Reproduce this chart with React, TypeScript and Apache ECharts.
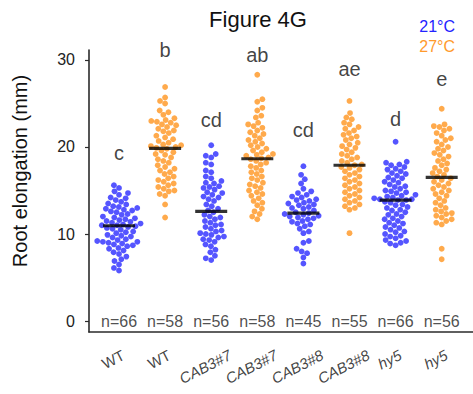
import React, { useEffect, useRef } from "react";
import * as echarts from "echarts";

// ---------- data ----------
const categories = ["WT", "WT", "CAB3#7", "CAB3#7", "CAB3#8", "CAB3#8", "hy5", "hy5"];
const temperatures = ["21°C", "27°C"];
const letters = ["c", "b", "cd", "ab", "cd", "ae", "d", "e"];
const letterLevels = [19.3, 31.1, 23.1, 30.6, 22.0, 29.0, 23.2, 27.8];
const yTicks = [0, 10, 20, 30];

const wt21 = [
  15.6, 15.3, 14.9, 14.7, 14.5, 14.2, 14.1, 13.9, 13.7, 13.5, 13.4, 13.2, 13.1, 12.9, 12.8, 12.6, 12.5,
  12.3, 12.2, 12.0, 11.9, 11.8, 11.6, 11.5, 11.3, 11.2, 11.1, 11.0, 11.0, 11.4, 11.7, 12.7, 13.0,
  10.9, 10.8, 10.7, 10.6, 10.5, 10.3, 10.2, 10.1, 9.9, 9.8, 9.7, 9.6, 9.4, 9.3, 9.2, 9.1, 9.1, 9.0,
  8.9, 8.8, 8.7, 8.6, 8.4, 8.3, 8.1, 7.9, 7.7, 7.4, 7.1, 6.9, 6.5, 6.1, 5.8,
];
const wt27 = [
  26.9, 25.7, 25.3, 25.0, 24.2, 24.0, 23.7, 23.3, 23.1, 23.0, 22.9, 22.8, 22.6, 22.5, 22.3, 22.1, 21.9,
  21.8, 21.6, 21.3, 21.1, 20.9, 20.7, 20.5, 20.3, 20.2, 20.1, 20.0, 19.9,
  19.8, 19.6, 19.4, 19.2, 19.1, 18.8, 18.6, 18.4, 18.2, 17.9, 17.7, 17.5, 17.3, 17.1, 16.9, 16.6, 16.4,
  16.2, 16.0, 15.8, 15.6, 15.4, 15.2, 15.0, 14.9, 14.6, 14.4, 13.4, 11.9,
];
const cab7_21 = [
  20.2, 19.2, 19.0, 18.8, 18.2, 18.0, 17.3, 17.1, 16.6, 16.4, 16.1, 15.9, 15.8, 15.5, 15.4, 15.3, 15.1,
  14.8, 14.7, 14.5, 14.3, 14.2, 14.0, 13.8, 13.4, 13.2, 12.9, 12.7,
  12.5, 12.2, 12.0, 11.9, 11.7, 11.5, 11.3, 11.1, 11.0, 10.8, 10.6, 10.4, 10.3, 10.1, 10.0, 9.9, 9.7,
  9.6, 9.4, 9.3, 9.1, 8.8, 8.6, 8.2, 7.9, 7.5, 7.2, 7.0,
];
const cab7_27 = [
  28.3, 25.5, 25.2, 24.5, 24.2, 23.6, 23.4, 22.8, 22.6, 22.4, 22.2, 21.9, 21.7, 21.5, 21.3, 21.0, 20.8,
  20.6, 20.4, 20.2, 20.0, 19.8, 19.6, 19.4, 19.2, 19.1, 19.0, 18.8, 18.7,
  18.6, 18.4, 18.2, 18.0, 17.8, 17.6, 17.3, 17.1, 16.9, 16.6, 16.4, 16.2, 15.9, 15.7, 15.5, 15.3, 15.0,
  14.8, 14.6, 14.4, 14.1, 13.8, 13.6, 13.3, 12.9, 12.6, 12.3, 12.0, 11.7,
];
const cab8_21 = [
  17.8, 16.8, 16.3, 15.8, 15.2, 14.9, 14.7, 14.5, 14.3, 14.2, 14.0, 13.9, 13.8, 13.6, 13.5, 13.4, 13.3,
  13.1, 13.0, 12.9, 12.7, 12.5, 12.4,
  12.3, 12.2, 12.1, 12.0, 11.9, 11.8, 11.7, 11.5, 11.4, 11.2, 11.1, 10.9, 10.6, 10.3, 10.1, 9.2, 9.0,
  8.3, 8.0, 7.8, 7.3, 6.6,
];
const cab8_27 = [
  25.3, 23.9, 23.4, 23.2, 22.8, 22.6, 22.3, 22.1, 21.9, 21.6, 21.4, 21.2, 21.0, 20.8, 20.5, 20.3, 20.1,
  19.9, 19.7, 19.4, 19.2, 19.0, 18.8, 18.6, 18.4, 18.2, 18.0, 17.9,
  17.7, 17.6, 17.4, 17.2, 17.0, 16.8, 16.6, 16.4, 16.2, 16.0, 15.8, 15.6, 15.4, 15.2, 15.0, 14.8, 14.6,
  14.4, 14.2, 14.0, 13.8, 13.6, 13.4, 13.2, 13.0, 12.8, 10.1,
];
const hy5_21 = [
  20.6, 18.3, 18.2, 18.0, 17.9, 17.7, 17.5, 17.4, 17.2, 17.0, 16.9, 16.7, 16.5, 16.4, 16.2, 16.0, 15.9,
  15.7, 15.5, 15.4, 15.2, 15.0, 14.9, 14.8, 14.7, 14.5, 14.4, 14.3, 14.2, 14.1, 14.0, 14.0, 13.9,
  13.9, 13.7, 13.6, 13.4, 13.3, 13.1, 13.0, 12.8, 12.7, 12.5, 12.3, 12.2, 12.0, 11.8, 11.7, 11.5, 11.3,
  11.2, 11.0, 10.8, 10.7, 10.5, 10.3, 10.2, 10.0, 9.8, 9.7, 9.5, 9.3, 9.2, 9.0, 8.9, 8.7,
];
const hy5_27 = [
  24.4, 22.6, 22.4, 22.3, 22.1, 21.9, 21.6, 21.3, 21.0, 20.8, 20.6, 20.3, 20.0, 19.8, 19.6, 19.3, 19.1,
  18.9, 18.6, 18.4, 18.1, 17.9, 17.6, 17.4, 17.2, 17.0, 16.8, 16.6,
  16.4, 16.2, 16.0, 15.8, 15.6, 15.4, 15.2, 15.0, 14.8, 14.6, 14.4, 14.1, 13.8, 13.6, 13.3, 13.0, 12.8,
  12.6, 12.4, 12.3, 12.1, 11.9, 11.7, 11.5, 11.3, 11.1, 8.3, 7.1,
];
const groups = [wt21, wt27, cab7_21, cab7_27, cab8_21, cab8_27, hy5_21, hy5_27];

// ---------- style / layout ----------
const FONT = '"Liberation Sans", Arial, Helvetica, sans-serif';
const COLORS = ["#4646ff", "#ffa33d"];
const LEGEND_COLORS = ["#2323ff", "#ff9a2c"];
const Y_MIN = -1.264;
const Y_MAX = 31.149;
const X_MIN = -0.651;
const X_MAX = 7.679;
const DOT = 5.8;
const SPACING = 5.7;

function median(a: number[]) {
  const s = [...a].sort((p, q) => p - q);
  const m = Math.floor(s.length / 2);
  return s.length % 2 ? s[m] : (s[m - 1] + s[m]) / 2;
}

function swarm(vals: number[], pxPerY: number, d: number) {
  const order = vals.map((_, i) => i).sort((a, b) => vals[a] - vals[b]);
  const placed: { x: number; y: number }[] = [];
  const res: number[] = new Array(vals.length).fill(0);
  for (const idx of order) {
    const y = vals[idx] * pxPerY;
    const cands = [0];
    for (const p of placed) {
      const dy = y - p.y;
      if (Math.abs(dy) < d) {
        const dx = Math.sqrt(d * d - dy * dy);
        cands.push(p.x + dx, p.x - dx);
      }
    }
    const sign = placed.length % 2 ? 1 : -1;
    cands.sort((a, b) => Math.abs(a) - Math.abs(b) || sign * (a - b));
    let chosen = 0;
    for (const c of cands) {
      if (placed.every((p) => (p.x - c) ** 2 + (p.y - y) ** 2 >= d * d - 1e-6)) {
        chosen = c;
        break;
      }
    }
    placed.push({ x: chosen, y });
    res[idx] = chosen;
  }
  return res;
}

function measure(text: string, font: string) {
  const ctx = document.createElement("canvas").getContext("2d");
  if (!ctx) return text.length * 8;
  ctx.font = font;
  return ctx.measureText(text).width;
}

export default function App() {
  const ref = useRef<HTMLDivElement>(null);
  useEffect(() => {
    if (!ref.current) return;
    const chart = echarts.init(ref.current, null, { renderer: "svg" });
    const base: any = {
      animation: false,
      textStyle: { fontFamily: FONT },
      grid: { left: 89, top: 50, width: 384, height: 282, containLabel: false },
      xAxis: {
        type: "value",
        min: X_MIN,
        max: X_MAX,
        axisLine: { show: true, onZero: false, lineStyle: { color: "#2b2b2b", width: 1.6 } },
        axisTick: { show: false },
        axisLabel: { show: false },
        splitLine: { show: false },
      },
      yAxis: {
        type: "value",
        min: Y_MIN,
        max: Y_MAX,
        axisLine: { show: true, onZero: false, lineStyle: { color: "#2b2b2b", width: 1.6 } },
        axisTick: { show: true, length: 4, customValues: yTicks, lineStyle: { color: "#2b2b2b", width: 1.2 } },
        axisLabel: { show: true, customValues: yTicks, margin: 14, fontSize: 16, color: "#222", fontFamily: FONT },
        splitLine: { show: false },
      },
      series: [],
    };
    chart.setOption(base);

    const y0 = chart.convertToPixel({ yAxisIndex: 0 }, 0) as number;
    const y10 = chart.convertToPixel({ yAxisIndex: 0 }, 10) as number;
    const pxPerY = (y0 - y10) / 10;
    const x0 = chart.convertToPixel({ xAxisIndex: 0 }, 0) as number;
    const x1 = chart.convertToPixel({ xAxisIndex: 0 }, 1) as number;
    const pxPerX = x1 - x0;

    const series: any[] = groups.map((vals, gi) => {
      const offs = swarm(vals, pxPerY, SPACING);
      return {
        name: categories[gi] + " " + temperatures[gi % 2],
        type: "scatter",
        symbolSize: DOT,
        itemStyle: { color: COLORS[gi % 2], opacity: 0.92 },
        data: vals.map((v, k) => [gi + offs[k] / pxPerX, v]),
        z: 2,
      };
    });

    series.push({
      name: "median",
      type: "scatter",
      symbol: "rect",
      symbolSize: [32, 3.2],
      itemStyle: { color: "#000" },
      data: groups.map((vals, gi) => [gi, median(vals)]),
      z: 5,
    });

    series.push({
      name: "letters",
      type: "scatter",
      symbolSize: 0,
      clip: false,
      silent: true,
      data: letters.map((_, gi) => [gi, letterLevels[gi]]),
      label: {
        show: true,
        position: "inside",
        fontSize: 20,
        color: "#111",
        fontFamily: FONT,
        formatter: (p: any) => letters[p.dataIndex],
      },
      z: 6,
    });

    series.push({
      name: "counts",
      type: "scatter",
      symbolSize: 0,
      clip: false,
      silent: true,
      data: groups.map((_, gi) => [gi, 0]),
      label: {
        show: true,
        position: "inside",
        fontSize: 16,
        color: "#222",
        fontFamily: FONT,
        formatter: (p: any) => "n=" + groups[p.dataIndex].length,
      },
      z: 6,
    });

    const ROT = 27;
    const rad = (ROT * Math.PI) / 180;
    const axisBottomPx = chart.convertToPixel({ yAxisIndex: 0 }, Y_MIN) as number;
    series.push({
      name: "categories",
      type: "scatter",
      symbolSize: 0,
      clip: false,
      silent: true,
      data: categories.map((c, gi) => {
        const italic = c !== "WT";
        const w = measure(c, (italic ? "italic " : "") + "15px " + FONT);
        const H = w * Math.sin(rad) + 11 * Math.cos(rad);
        const cyPx = axisBottomPx + 17 + H / 2;
        const yVal = Y_MIN - (cyPx - axisBottomPx) / pxPerY;
        return {
          value: [gi - 6 / pxPerX, yVal],
          label: { fontStyle: italic ? "italic" : "normal" },
        };
      }),
      label: {
        show: true,
        position: "inside",
        rotate: ROT,
        fontSize: 15,
        color: "#111",
        fontFamily: FONT,
        formatter: (p: any) => categories[p.dataIndex],
      },
      z: 6,
    });

    chart.setOption({
      series,
      graphic: [
        {
          type: "text",
          x: 258,
          y: 19,
          style: { text: "Figure 4G", font: "22px " + FONT, fill: "#111", align: "center", verticalAlign: "middle" },
        },
        {
          type: "text",
          x: 20,
          y: 171,
          rotation: Math.PI / 2,
          style: {
            text: "Root elongation (mm)",
            font: "20px " + FONT,
            fill: "#111",
            align: "center",
            verticalAlign: "middle",
          },
        },
        {
          type: "text",
          x: 455,
          y: 26,
          style: { text: temperatures[0], font: "16px " + FONT, fill: LEGEND_COLORS[0], align: "right", verticalAlign: "middle" },
        },
        {
          type: "text",
          x: 455,
          y: 46,
          style: { text: temperatures[1], font: "16px " + FONT, fill: LEGEND_COLORS[1], align: "right", verticalAlign: "middle" },
        },
      ],
    });

    return () => chart.dispose();
  }, []);

  return (
    <div
      ref={ref}
      style={{ position: "fixed", left: 0, top: 0, width: 473, height: 394, background: "#fff" }}
    />
  );
}
